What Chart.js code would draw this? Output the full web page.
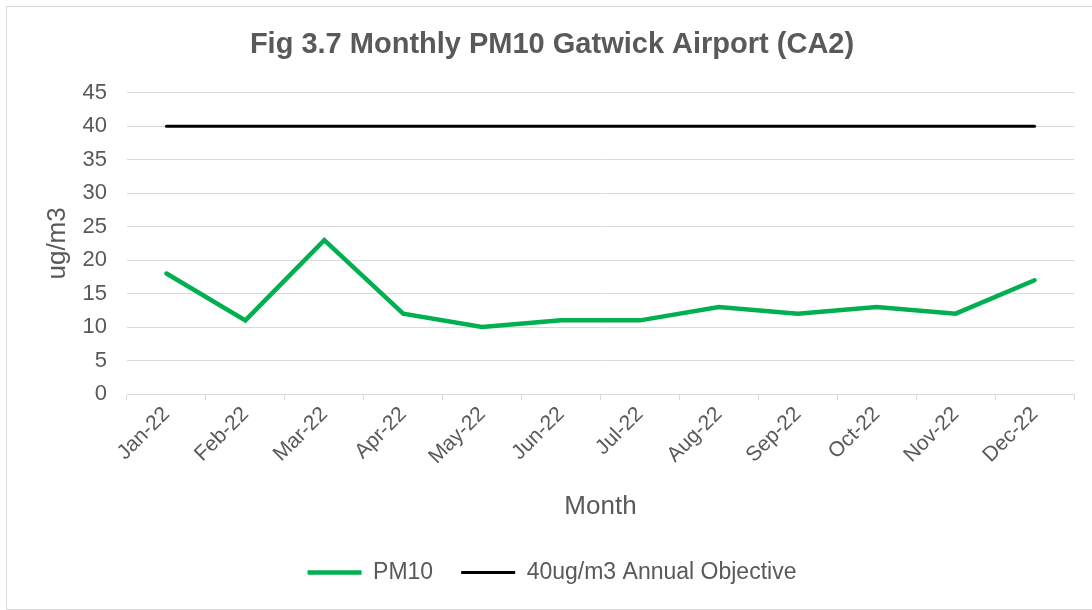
<!DOCTYPE html>
<html>
<head>
<meta charset="utf-8">
<script src="https://cdn.jsdelivr.net/npm/chart.js@4.4.1/dist/chart.umd.min.js"></script>
<style>
  body { margin: 0; background: #ffffff; }
  #frame { position: absolute; left: 6px; top: 6px; width: 1100px; height: 602px; border: 1px solid #d9d9d9; }
  #wrap { position: absolute; left: 0; top: 0; width: 1092px; height: 610px; }
</style>
</head>
<body>
<div id="frame"></div>
<div id="wrap"><canvas id="myChart"></canvas></div>
<script>
var months = ['Jan-22', 'Feb-22', 'Mar-22', 'Apr-22', 'May-22', 'Jun-22',
              'Jul-22', 'Aug-22', 'Sep-22', 'Oct-22', 'Nov-22', 'Dec-22'];
var pm10 = [18, 11, 23, 12, 10, 11, 11, 13, 12, 13, 12, 17];
var objective = [40, 40, 40, 40, 40, 40, 40, 40, 40, 40, 40, 40];

var FONT = '"Liberation Sans", Arial, sans-serif';
var GREY = '#595959';
var GRID = '#d9d9d9';

var chart = new Chart(document.getElementById('myChart'), {
  type: 'line',
  data: {
    labels: months,
    datasets: [
      {
        label: 'PM10',
        data: pm10,
        borderColor: '#00b050',
        backgroundColor: '#00b050',
        borderWidth: 4.5,
        borderCapStyle: 'round',
        pointRadius: 0,
        fill: false
      },
      {
        label: '40ug/m3 Annual Objective',
        data: objective,
        borderColor: '#000000',
        backgroundColor: '#000000',
        borderWidth: 3,
        borderCapStyle: 'round',
        pointRadius: 0,
        fill: false
      }
    ]
  },
  options: {
    animation: false,
    responsive: true,
    maintainAspectRatio: false,
    layout: {
      padding: { left: 30, right: 18, top: 0, bottom: 16 }
    },
    scales: {
      x: {
        offset: true,
        grid: {
          offset: true,
          drawOnChartArea: false,
          color: GRID,
          tickLength: 6
        },
        border: { color: GRID, width: 1 },
        ticks: {
          color: GREY,
          font: { family: FONT, size: 21 },
          maxRotation: 45,
          minRotation: 45,
          padding: 2
        },
        title: {
          display: true,
          text: 'Month',
          color: GREY,
          font: { family: FONT, size: 26 },
          padding: { top: 4, bottom: 11 }
        },
        afterFit: function(scale) { scale.height = 139; }
      },
      y: {
        min: 0,
        max: 45,
        grid: { color: GRID, drawTicks: false },
        border: { display: false },
        ticks: {
          stepSize: 5,
          color: GREY,
          font: { family: FONT, size: 22 },
          padding: 20
        },
        title: {
          display: true,
          text: 'ug/m3',
          color: GREY,
          font: { family: FONT, size: 26 },
          padding: { top: 12, bottom: 4 }
        },
        afterFit: function(scale) { scale.width = 97; }
      }
    },
    plugins: {
      title: {
        display: true,
        text: 'Fig 3.7 Monthly PM10 Gatwick Airport (CA2)',
        color: GREY,
        font: { family: FONT, size: 29, weight: 'bold' },
        padding: { top: 28, bottom: 30 }
      },
      legend: {
        position: 'bottom',
        labels: {
          usePointStyle: true,
          pointStyle: 'line',
          pointStyleWidth: 54,
          color: GREY,
          font: { family: FONT, size: 23 },
          padding: 28
        }
      },
      tooltip: { enabled: false }
    }
  }
});
</script>
</body>
</html>
